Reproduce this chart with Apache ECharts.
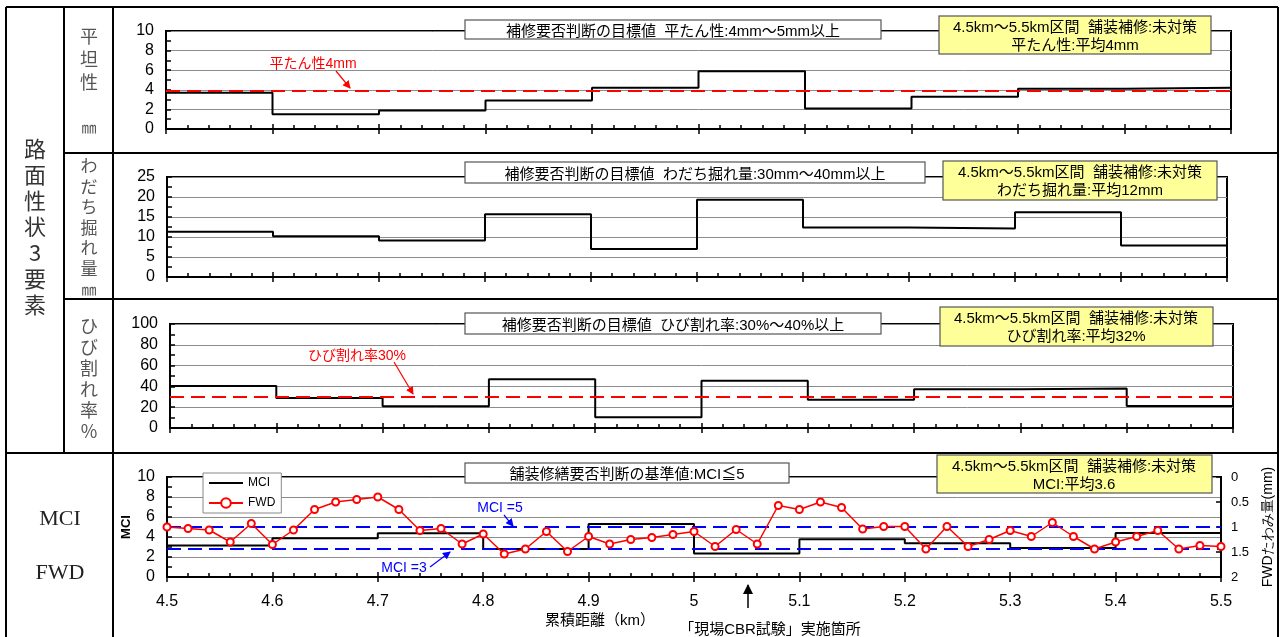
<!DOCTYPE html>
<html>
<head>
<meta charset="utf-8">
<script src="https://cdn.jsdelivr.net/npm/echarts@6/dist/echarts.min.js"></script>
<style>
body { margin: 0; background: #fff; }
#wrap { position: relative; width: 1281px; height: 637px; overflow: hidden; }
#main { position: absolute; left: 0; top: 0; width: 1281px; height: 637px; }
svg { position: absolute; left: 0; top: 0; }
.t { position: absolute; white-space: nowrap; line-height: 1; transform: translate(-50%, -50%);
     font-family: "Liberation Sans", Arial, "Noto Sans CJK JP", sans-serif; color: #000; }
.v { position: absolute; text-align: center; transform: translateX(-50%);
     font-family: "Noto Sans CJK JP", sans-serif; color: #555; }
.s { font-family: "Liberation Serif", "DejaVu Serif", serif; color: #222; font-size: 22px; }
</style>
</head>
<body>
<div id="wrap">
<div id="main"></div>

<svg width="1281" height="637">
  <defs>
    <marker id="arR" markerWidth="8" markerHeight="8" refX="7" refY="4" orient="auto" markerUnits="userSpaceOnUse"><path d="M0,0 L8,4 L0,8 z" fill="#f00"/></marker>
    <marker id="arB" markerWidth="8" markerHeight="8" refX="7" refY="4" orient="auto" markerUnits="userSpaceOnUse"><path d="M0,0 L8,4 L0,8 z" fill="#00f"/></marker>
    <marker id="arK" markerWidth="10" markerHeight="10" refX="9" refY="5" orient="auto" markerUnits="userSpaceOnUse"><path d="M0,0 L10,5 L0,10 z" fill="#000"/></marker>
  </defs>
  <!-- 枠 -->
  <g stroke="#000" stroke-width="2">
    <line x1="6" y1="7" x2="1278" y2="7"/>
    <line x1="6" y1="7" x2="6" y2="640"/>
    <line x1="1278" y1="7" x2="1278" y2="640"/>
    <line x1="64" y1="7" x2="64" y2="453"/>
    <line x1="113" y1="7" x2="113" y2="640"/>
    <line x1="64" y1="153" x2="1278" y2="153"/>
    <line x1="64" y1="299" x2="1278" y2="299"/>
    <line x1="6" y1="453" x2="1278" y2="453"/>
  </g>
  <!-- 目標値ボックス -->
  <g fill="#fff" stroke="#555" stroke-width="1.2">
    <rect x="465" y="20" width="416" height="19"/>
    <rect x="465" y="162" width="460" height="21"/>
    <rect x="465" y="313" width="416" height="21"/>
    <rect x="465" y="463" width="324" height="20"/>
  </g>
  <g fill="#ffff99" stroke="#555" stroke-width="1.2">
    <rect x="939" y="16" width="272" height="38"/>
    <rect x="943" y="161" width="274" height="39"/>
    <rect x="940" y="307" width="273" height="39"/>
    <rect x="937" y="455" width="275" height="38"/>
  </g>
  <!-- 矢印 -->
  <line x1="336" y1="71" x2="350" y2="88" stroke="#f00" stroke-width="1.2" marker-end="url(#arR)"/>
  <line x1="394" y1="362" x2="413" y2="394" stroke="#f00" stroke-width="1.2" marker-end="url(#arR)"/>
  <line x1="504" y1="515" x2="513" y2="526" stroke="#00f" stroke-width="1.2" marker-end="url(#arB)"/>
  <line x1="430" y1="567" x2="450" y2="552" stroke="#00f" stroke-width="1.2" marker-end="url(#arB)"/>
  <line x1="748" y1="608" x2="748" y2="585" stroke="#000" stroke-width="1.5" marker-end="url(#arK)"/>
</svg>

<!-- 左の見出し -->
<div class="v" style="left:35px;top:134px;font-size:22px;line-height:26px;color:#333">路<br>面<br>性<br>状<br>3<br>要<br>素</div>
<div class="v" style="left:89px;top:24px;font-size:18px;line-height:23px">平<br>坦<br>性</div>
<div class="v" style="left:89px;top:117px;font-size:15px;line-height:20px">㎜</div>
<div class="v" style="left:89px;top:155px;font-size:17px;line-height:20.5px">わ<br>だ<br>ち<br>掘<br>れ<br>量<br><span style="font-size:15px">㎜</span></div>
<div class="v" style="left:89px;top:315px;font-size:18px;line-height:21px">ひ<br>び<br>割<br>れ<br>率<br>%</div>
<div class="t s" style="left:60px;top:518px">MCI</div>
<div class="t s" style="left:60px;top:572px">FWD</div>

<!-- 目標値・区間テキスト -->
<div class="t" style="left:673px;top:30px;font-size:15px">補修要否判断の目標値&nbsp;&nbsp;平たん性:4mm～5mm以上</div>
<div class="t" style="left:695px;top:173px;font-size:15px">補修要否判断の目標値&nbsp;&nbsp;わだち掘れ量:30mm～40mm以上</div>
<div class="t" style="left:673px;top:324px;font-size:15px">補修要否判断の目標値&nbsp;&nbsp;ひび割れ率:30%～40%以上</div>
<div class="t" style="left:627px;top:473px;font-size:15px">舗装修繕要否判断の基準値:MCI≦5</div>

<div class="t" style="left:1075px;top:26px;font-size:15px">4.5km～5.5km区間&nbsp;&nbsp;舗装補修:未対策</div>
<div class="t" style="left:1075px;top:44px;font-size:15px">平たん性:平均4mm</div>
<div class="t" style="left:1080px;top:171px;font-size:15px">4.5km～5.5km区間&nbsp;&nbsp;舗装補修:未対策</div>
<div class="t" style="left:1080px;top:189px;font-size:15px">わだち掘れ量:平均12mm</div>
<div class="t" style="left:1076px;top:317px;font-size:15px">4.5km～5.5km区間&nbsp;&nbsp;舗装補修:未対策</div>
<div class="t" style="left:1076px;top:335px;font-size:15px">ひび割れ率:平均32%</div>
<div class="t" style="left:1074px;top:465px;font-size:15px">4.5km～5.5km区間&nbsp;&nbsp;舗装補修:未対策</div>
<div class="t" style="left:1074px;top:483px;font-size:15px">MCI:平均3.6</div>

<!-- 注記 -->
<div class="t" style="left:313px;top:63px;font-size:14px;color:#f00">平たん性4mm</div>
<div class="t" style="left:357px;top:355px;font-size:14px;color:#f00">ひび割れ率30%</div>
<div class="t" style="left:500px;top:507px;font-size:14px;color:#00f">MCI =5</div>
<div class="t" style="left:404px;top:567px;font-size:14px;color:#00f">MCI =3</div>
<div class="t" style="left:600px;top:619px;font-size:15px">累積距離（km）</div>
<div class="t" style="left:770px;top:628px;font-size:15px">「現場CBR試験」実施箇所</div>
</div>

<script>
// 区間境界 (km)
var sectionKm = [4.5, 4.6, 4.7, 4.8, 4.9, 5.0, 5.1, 5.2, 5.3, 5.4, 5.5];

// 区間ごとの値 (4.5-4.6, 4.6-4.7, ... 5.4-5.5)
var flatness = [3.7, 1.5, 1.9, 2.9, 4.2, 5.9, 2.1, 3.3, 4.1, 4.2];        // 平坦性 mm
var rutDepth = [11.3, 10.2, 9.1, 15.7, 7.0, 19.3, 12.4, 12.1, 16.2, 7.9];  // わだち掘れ量 mm
var crackRate = [40.4, 28.8, 20.8, 46.8, 10.3, 45.5, 27.2, 37.2, 38.1, 21.2]; // ひび割れ率 %
var mci = [3.15, 3.87, 4.37, 2.81, 5.3, 2.35, 3.77, 3.38, 2.91, 4.4];

// FWD たわみ量 (mm)
var fwdKm = [4.50, 4.52, 4.54, 4.56, 4.58, 4.60, 4.62, 4.64, 4.66, 4.68,
             4.70, 4.72, 4.74, 4.76, 4.78, 4.80, 4.82, 4.84, 4.86, 4.88,
             4.90, 4.92, 4.94, 4.96, 4.98, 5.00, 5.02, 5.04, 5.06, 5.08,
             5.10, 5.12, 5.14, 5.16, 5.18, 5.20, 5.22, 5.24, 5.26, 5.28,
             5.30, 5.32, 5.34, 5.36, 5.38, 5.40, 5.42, 5.44, 5.46, 5.48,
             5.50];
var fwdDeflection = [1.00, 1.03, 1.06, 1.30, 0.93, 1.35, 1.06, 0.65, 0.50, 0.45,
                     0.40, 0.65, 1.07, 1.03, 1.34, 1.14, 1.54, 1.44, 1.09, 1.49,
                     1.19, 1.34, 1.25, 1.21, 1.15, 1.09, 1.39, 1.05, 1.34, 0.57,
                     0.65, 0.50, 0.61, 1.04, 0.99, 0.99, 1.44, 0.99, 1.39, 1.25,
                     1.07, 1.19, 0.91, 1.19, 1.44, 1.30, 1.19, 1.07, 1.44, 1.37,
                     1.39];

// 基準線
var flatLimit = 3.9;
var crackLimit = 30;
var mciLimits = [5, 2.85];

var chart = echarts.init(document.getElementById('main'));

// 階段データ
var steps = function (vals) {
    return sectionKm.map(function (km, i) {
        return [km, vals[Math.min(i, vals.length - 1)]];
    });
};

var grids = [
    { left: 166, top: 31, width: 1065, height: 98 },
    { left: 167, top: 177, width: 1060, height: 100 },
    { left: 170, top: 324, width: 1063, height: 104 },
    { left: 167, top: 477, width: 1054, height: 100 }
];

var black = { color: '#000', width: 1.5 };
var font = 'Liberation Sans, Arial, sans-serif';

var xAxes = [];
grids.forEach(function (g, i) {
    xAxes.push({
        type: 'value', gridIndex: i, position: 'bottom',
        min: 4.5, max: 5.5, interval: 0.1,
        axisLine: { show: true, onZero: false, lineStyle: { color: '#000', width: 2 } },
        axisTick: { show: true, inside: true, length: 5, lineStyle: black },
        minorTick: { show: true, splitNumber: 5, length: 4, lineStyle: black },
        splitLine: { show: false },
        axisLabel: { show: i === 3, fontSize: 16, color: '#000', margin: 17, fontFamily: font }
    });
    // 下向きの目盛
    xAxes.push({
        type: 'value', gridIndex: i, position: 'bottom',
        min: 4.5, max: 5.5, interval: 0.1,
        axisLine: { show: false, onZero: false },
        axisTick: { show: true, inside: false, length: 5, lineStyle: black },
        splitLine: { show: false },
        axisLabel: { show: false }
    });
});

var yAx = function (gi, max, step, minor) {
    return {
        type: 'value', gridIndex: gi, min: 0, max: max, interval: step,
        axisLine: { show: true, lineStyle: { color: '#000', width: 2 } },
        axisTick: { show: true, inside: true, length: 5, lineStyle: black },
        minorTick: { show: true, splitNumber: minor, length: 5, lineStyle: black },
        splitLine: { show: true, lineStyle: { color: '#8c8c8c', width: 1 } },
        axisLabel: { fontSize: 16, color: '#000', margin: 12, fontFamily: font }
    };
};

var yAxes = [
    yAx(0, 10, 2, 2),
    yAx(1, 25, 5, 2),
    yAx(2, 100, 20, 2),
    yAx(3, 10, 2, 2),
    {
        type: 'value', gridIndex: 3, position: 'right', min: 0, max: 2, interval: 0.5, inverse: true,
        name: 'FWDたわみ量(mm)', nameLocation: 'middle', nameGap: 40, nameRotate: 90,
        nameMoveOverlap: false,
        nameTextStyle: { fontSize: 14, color: '#000', fontFamily: font },
        axisLine: { show: true, lineStyle: { color: '#000', width: 2 } },
        axisTick: { show: true, inside: true, length: 5, lineStyle: black },
        splitLine: { show: false },
        axisLabel: { fontSize: 13, color: '#000', margin: 10, fontFamily: font }
    }
];
yAxes[3].name = 'MCI';
yAxes[3].nameLocation = 'middle';
yAxes[3].nameGap = 34;
yAxes[3].nameMoveOverlap = false;
yAxes[3].nameTextStyle = { fontSize: 13, fontWeight: 'bold', color: '#000', fontFamily: font };

var dashLine = function (color, vals) {
    return {
        silent: true, symbol: 'none', label: { show: false },
        lineStyle: { color: color, type: [14, 7], width: 2 },
        data: vals.map(function (v) { return { yAxis: v }; })
    };
};

var stepSeries = function (name, xi, yi, vals, mark) {
    return {
        name: name, type: 'line', xAxisIndex: xi, yAxisIndex: yi, step: 'end',
        symbol: 'none', data: steps(vals),
        lineStyle: { color: '#000', width: 2 },
        itemStyle: { color: '#000' },
        markLine: mark
    };
};

var option = {
    animation: false,
    grid: grids.map(function (g) {
        return Object.assign({
            show: true, borderColor: '#000', borderWidth: 2,
            containLabel: false, outerBoundsMode: 'none'
        }, g);
    }),
    legend: {
        data: [
            { name: 'MCI', itemStyle: { opacity: 0 } },
            { name: 'FWD' }
        ],
        orient: 'vertical', left: 203, top: 473,
        itemWidth: 34, itemHeight: 12, itemGap: 8,
        backgroundColor: '#fff', borderColor: '#888', borderWidth: 1, padding: [4, 6, 4, 5],
        textStyle: { fontSize: 12, color: '#000', fontFamily: font }
    },
    xAxis: xAxes,
    yAxis: yAxes,
    series: [
        stepSeries('平坦性', 0, 0, flatness, dashLine('#f00', [flatLimit])),
        stepSeries('わだち掘れ量', 2, 1, rutDepth),
        stepSeries('ひび割れ率', 4, 2, crackRate, dashLine('#f00', [crackLimit])),
        stepSeries('MCI', 6, 3, mci, dashLine('#00f', mciLimits)),
        {
            name: 'FWD', type: 'line', xAxisIndex: 6, yAxisIndex: 4,
            data: fwdKm.map(function (km, i) { return [km, fwdDeflection[i]]; }),
            symbol: 'emptyCircle', symbolSize: 7, z: 5,
            lineStyle: { color: '#f00', width: 1.5 },
            itemStyle: { color: '#f00', borderWidth: 1.5 }
        }
    ]
};

chart.setOption(option);
</script>
</body>
</html>
